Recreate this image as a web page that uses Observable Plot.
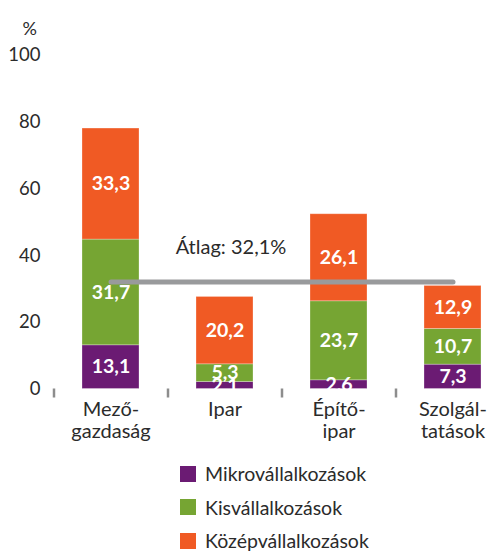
<!DOCTYPE html>
<html>
<head>
<meta charset="utf-8">
<script src="https://cdn.jsdelivr.net/npm/d3@7"></script>
<script src="https://cdn.jsdelivr.net/npm/@observablehq/plot@0.6"></script>
<style>
  body { margin: 0; background: #fff; font-family: Lato, "Open Sans", sans-serif; }
  #wrap { position: relative; width: 501px; height: 551px; overflow: hidden; }
  #legend { position: absolute; left: 180px; top: 457px; }
  .row { display: flex; align-items: center; height: 33.5px; font-size: 19.5px; color: #2b2b2b; }
  .sw { width: 16px; height: 16px; margin-right: 9px; }
</style>
</head>
<body>
<div id="wrap"></div>
<script>
const categories = ["Mező-gazdaság", "Ipar", "Építő-ipar", "Szolgál-tatások"];
const categoryLabels = ["Mező-\ngazdaság", "Ipar", "Építő-\nipar", "Szolgál-\ntatások"];
const series = ["Mikrovállalkozások", "Kisvállalkozások", "Középvállalkozások"];
const colors = ["#6b1b73", "#76a533", "#f05a24"];
const micro = [13.1, 2.1, 2.6, 7.3];
const small = [31.7, 5.3, 23.7, 10.7];
const medium = [33.3, 20.2, 26.1, 12.9];
const average = 32.1;
const yTicks = [0, 20, 40, 60, 80, 100];

const seriesValues = [micro, small, medium];
const data = [];
series.forEach((s, si) => categories.forEach((c, ci) => data.push({cat: c, series: s, value: seriesValues[si][ci]})));
const fmt = v => v.toFixed(1).replace(".", ",");

const chart = Plot.plot({
  width: 501,
  height: 462,
  marginLeft: 53,
  marginRight: 0,
  marginTop: 55,
  marginBottom: 73.5,
  style: { fontFamily: "Lato, 'Open Sans', sans-serif", fontSize: "18px", color: "#2b2b2b", background: "#fff" },
  x: { domain: categories, range: [53, 509], paddingInner: 0.5, paddingOuter: 0.25, label: null },
  y: { domain: [0, 100], label: null },
  color: { domain: series, range: colors },
  marks: [
    Plot.ruleY(yTicks.filter(d => d > 0), { x1: 55, x2: 501, stroke: "#c4c4c4", strokeWidth: 1.3, strokeDasharray: "8,5" }),
    Plot.axisY(yTicks, { tickSize: 0, tickPadding: 13, fontSize: 18.5, fill: "#2b2b2b" }),
    Plot.text(["%"], { frameAnchor: "top-left", dx: -31, dy: -33, fontSize: 18, fill: "#2b2b2b" }),
    Plot.barY(data, { x: "cat", y: "value", z: "series", fill: "series", order: series, stroke: "#fff", strokeOpacity: 0.35, strokeWidth: 0.8 }),
    Plot.text(data, Plot.stackY({ x: "cat", y: "value", z: "series", order: series, text: d => fmt(d.value), fill: "white", fontWeight: "bold", fontSize: 19.5 })),
    Plot.lineY(categories.filter((c, i) => i === 0 || i === categories.length - 1), { x: d => d, y: () => average, stroke: "#999a9c", strokeWidth: 5, strokeLinecap: "round" }),
    Plot.text([average], { x: () => categories[1], y: d => d, text: d => `Átlag: ${fmt(d)}%`, dx: 6, dy: -34, fontSize: 20, fill: "#2b2b2b" }),
    Plot.ruleY([0], { x1: 53, x2: 501, stroke: "#8d8d8d", strokeWidth: 2.5 }),
    Plot.ruleX(categories, { x: d => d, dx: -57, y1: 0, y2: -2.7, stroke: "#8d8d8d", strokeWidth: 2.5 }),
    Plot.axisX({ tickSize: 0, tickPadding: 11, fontSize: 20, fill: "#2b2b2b", tickFormat: (d, i) => categoryLabels[categories.indexOf(d)], lineHeight: 1.1 })
  ]
});

const wrap = document.getElementById("wrap");
wrap.appendChild(chart);
const legend = document.createElement("div");
legend.id = "legend";
series.forEach((s, i) => {
  const row = document.createElement("div");
  row.className = "row";
  row.innerHTML = `<div class="sw" style="background:${colors[i]}"></div><span>${s}</span>`;
  legend.appendChild(row);
});
wrap.appendChild(legend);
</script>
</body>
</html>
